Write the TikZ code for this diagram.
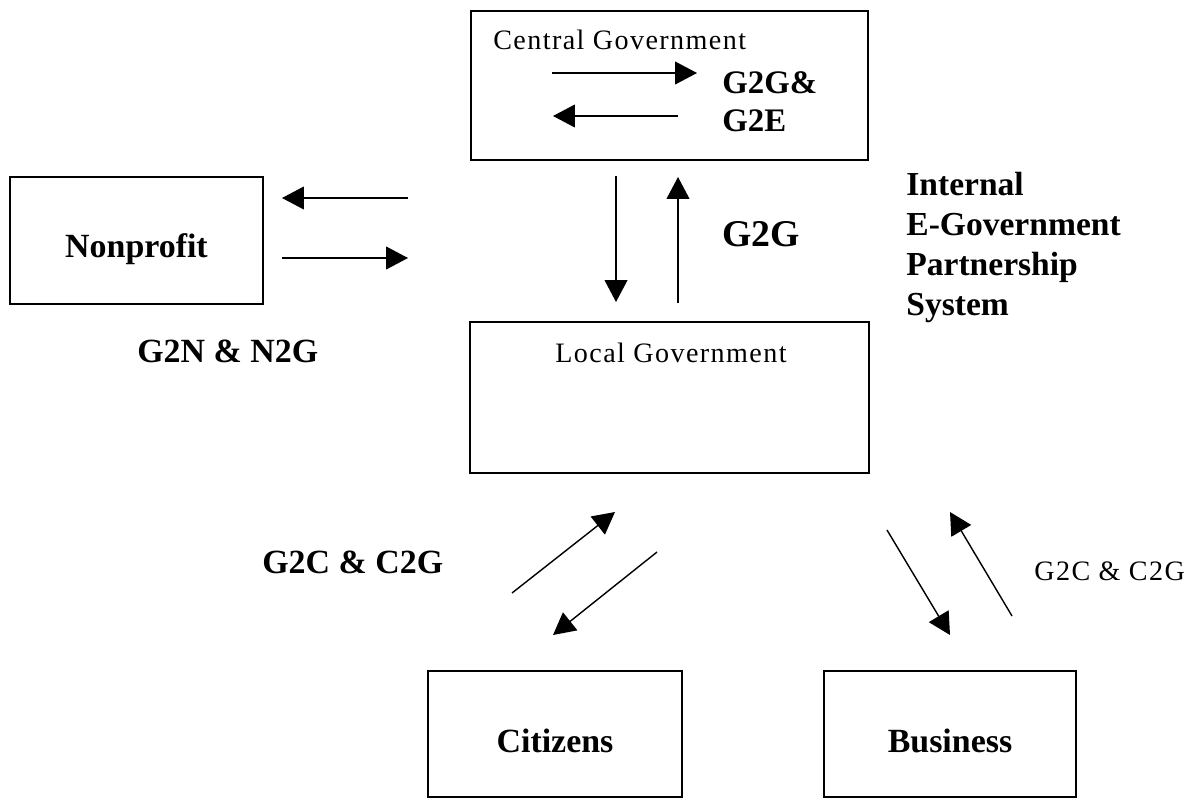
\documentclass[tikz,border=0pt]{standalone}
\usepackage{fontspec}
\setmainfont{Liberation Serif}
\newfontfamily\spacedserif[LetterSpace=5]{Liberation Serif}
\usetikzlibrary{arrows.meta}
\begin{document}
\begin{tikzpicture}[x=0.02cm,y=-0.02cm,
  box/.style={draw, line width=0.8pt, inner sep=0pt, rectangle},
  arr/.style={line width=0.8pt, -{Triangle[length=12.5pt,width=13pt]}},
  lbl/.style={inner sep=0pt, anchor=base west, font=\fontsize{19.3}{22.7}\selectfont\bfseries},
  biglbl/.style={inner sep=0pt, anchor=base west, font=\fontsize{21.5}{25}\selectfont\bfseries},
  small/.style={inner sep=0pt, anchor=base west, font=\fontsize{16}{19}\spacedserif}]
\useasboundingbox (0,0) rectangle (1195,801);
% boxes
\node[box, minimum width=7.94cm, minimum height=2.98cm] (central) at (669.5,85.5) {};
\node[box, minimum width=5.06cm, minimum height=2.54cm] (nonprofit) at (136.5,240.5) {};
\node[box, minimum width=7.98cm, minimum height=3.02cm] (local) at (669.5,397.5) {};
\node[box, minimum width=5.08cm, minimum height=2.52cm] (citizens) at (555,734) {};
\node[box, minimum width=5.04cm, minimum height=2.52cm] (business) at (950,734) {};
% texts
\node[small] (tcentral) at (493,49) {Central Government};
\node[lbl, font=\fontsize{18.7}{22}\selectfont\bfseries] (tg2ge1) at (722,93) {G2G\&};
\node[lbl, font=\fontsize{18.7}{22}\selectfont\bfseries] (tg2ge2) at (722,131) {G2E};
\node[lbl, align=left, anchor=north west, font=\fontsize{19.1}{22.7}\selectfont\bfseries] (tinternal) at (906,172) {Internal\\E-Government\\Partnership\\System};
\node[biglbl] (tg2g) at (722,246) {G2G};
\node[lbl, anchor=base] (tnonprofit) at (136.5,257) {Nonprofit};
\node[lbl] (tg2n) at (137,362) {G2N \& N2G};
\node[small] (tlocal) at (555,362) {Local Government};
\node[lbl] (tg2c) at (262,573) {G2C \& C2G};
\node[small] (tg2cs) at (1034,580) {G2C \& C2G};
\node[lbl, anchor=base] (tcitizens) at (555,752) {Citizens};
\node[lbl, anchor=base] (tbusiness) at (950,752) {Business};
% arrow endpoints
\coordinate (c1a) at (552,73);  \coordinate (c1b) at (697,73);
\coordinate (c2a) at (678,116); \coordinate (c2b) at (553,116);
\coordinate (n1a) at (408,198); \coordinate (n1b) at (282,198);
\coordinate (n2a) at (282,258); \coordinate (n2b) at (408,258);
\coordinate (v1a) at (616,176); \coordinate (v1b) at (616,302);
\coordinate (v2a) at (678,303); \coordinate (v2b) at (678,177);
\coordinate (d1a) at (512,593); \coordinate (d1b) at (615,512);
\coordinate (d2a) at (657,552); \coordinate (d2b) at (553,635);
\coordinate (b1a) at (887,530); \coordinate (b1b) at (950,635);
\coordinate (b2a) at (1012,616); \coordinate (b2b) at (950,512);
\draw[arr] (c1a) -- (c1b);
\draw[arr] (c2a) -- (c2b);
\draw[arr] (n1a) -- (n1b);
\draw[arr] (n2a) -- (n2b);
\draw[arr] (v1a) -- (v1b);
\draw[arr] (v2a) -- (v2b);
\draw[arr] (d1a) -- (d1b);
\draw[arr] (d2a) -- (d2b);
\draw[arr] (b1a) -- (b1b);
\draw[arr] (b2a) -- (b2b);
\end{tikzpicture}
\end{document}
